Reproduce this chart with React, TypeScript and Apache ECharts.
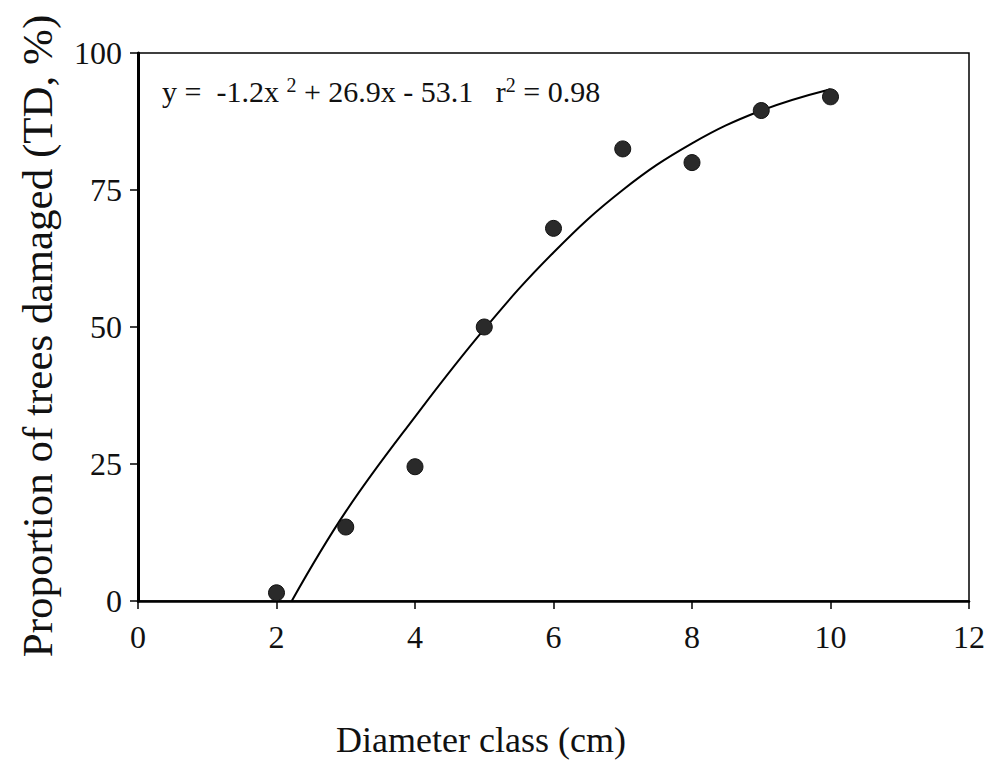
import React, { useEffect, useRef } from "react";
import * as echarts from "echarts";

const diameterClass = [2, 3, 4, 5, 6, 7, 8, 9, 10];
const proportionDamaged = [1.5, 13.5, 24.5, 50, 68, 82.5, 80, 89.5, 92];

const fitX = [2.22, 3, 4, 5, 6, 7, 8, 9, 10];
const fitY = [0, 16.3, 33.6, 49.6, 63.6, 75, 83.5, 89.5, 93.4];

const xTicks = [0, 2, 4, 6, 8, 10, 12];
const yTicks = [0, 25, 50, 75, 100];

const equationText = "y =  -1.2x {s|2} + 26.9x - 53.1   r{s|2} = 0.98";
const xTitle = "Diameter class (cm)";
const yTitle = "Proportion of trees damaged (TD, %)";

const FONT = "'Liberation Serif', 'Times New Roman', serif";

export default function App() {
  const ref = useRef<HTMLDivElement>(null);
  useEffect(() => {
    if (!ref.current) return;
    const chart = echarts.init(ref.current, null, { renderer: "svg" });
    chart.setOption({
      animation: false,
      backgroundColor: "#ffffff",
      grid: {
        left: 138,
        right: 17,
        top: 53,
        bottom: 166,
        show: true,
        borderColor: "#000",
        borderWidth: 1.5,
        containLabel: false,
        outerBoundsMode: "none",
      },
      xAxis: {
        type: "value",
        min: xTicks[0],
        max: xTicks[xTicks.length - 1],
        interval: 2,
        axisLine: { show: true, onZero: false, lineStyle: { color: "#000", width: 2.5 } },
        axisTick: { show: true, length: 8, lineStyle: { color: "#000", width: 1.5 } },
        axisLabel: { fontFamily: FONT, fontSize: 32, color: "#111", margin: 20 },
        splitLine: { show: false },
      },
      yAxis: {
        type: "value",
        min: yTicks[0],
        max: yTicks[yTicks.length - 1],
        interval: 25,
        axisLine: { show: true, onZero: false, lineStyle: { color: "#000", width: 3 } },
        axisTick: { show: true, length: 8, lineStyle: { color: "#000", width: 1.5 } },
        axisLabel: { fontFamily: FONT, fontSize: 32, color: "#111", margin: 16 },
        splitLine: { show: false },
      },
      graphic: [
        {
          type: "text",
          left: 162,
          top: 75,
          style: {
            text: equationText,
            font: `30px ${FONT}`,
            fill: "#111",
            lineHeight: 32,
            rich: {
              s: {
                fontFamily: FONT,
                fontSize: 20,
                verticalAlign: "top",
                lineHeight: 32,
                padding: [0, 0, 12, 0],
                fill: "#111",
              },
            },
          },
        },
        {
          type: "text",
          x: 481,
          y: 740,
          style: {
            text: xTitle,
            font: `36px ${FONT}`,
            fill: "#111",
            align: "center",
            verticalAlign: "middle",
          },
        },
        {
          type: "text",
          x: 37,
          y: 336,
          rotation: Math.PI / 2,
          style: {
            text: yTitle,
            font: `43px ${FONT}`,
            fill: "#111",
            align: "center",
            verticalAlign: "middle",
          },
        },
      ],
      series: [
        {
          type: "line",
          data: fitX.map((x, i) => [x, fitY[i]]),
          smooth: 0.4,
          showSymbol: false,
          lineStyle: { color: "#000", width: 2 },
          z: 2,
        },
        {
          type: "scatter",
          data: diameterClass.map((x, i) => [x, proportionDamaged[i]]),
          symbol: "circle",
          symbolSize: 16,
          itemStyle: { color: "#2a2a2a", borderColor: "#111", borderWidth: 1, opacity: 1 },
          z: 3,
        },
      ],
    });
    return () => chart.dispose();
  }, []);
  return (
    <div
      ref={ref}
      style={{ position: "fixed", left: 0, top: 0, width: 986, height: 767 }}
    />
  );
}
